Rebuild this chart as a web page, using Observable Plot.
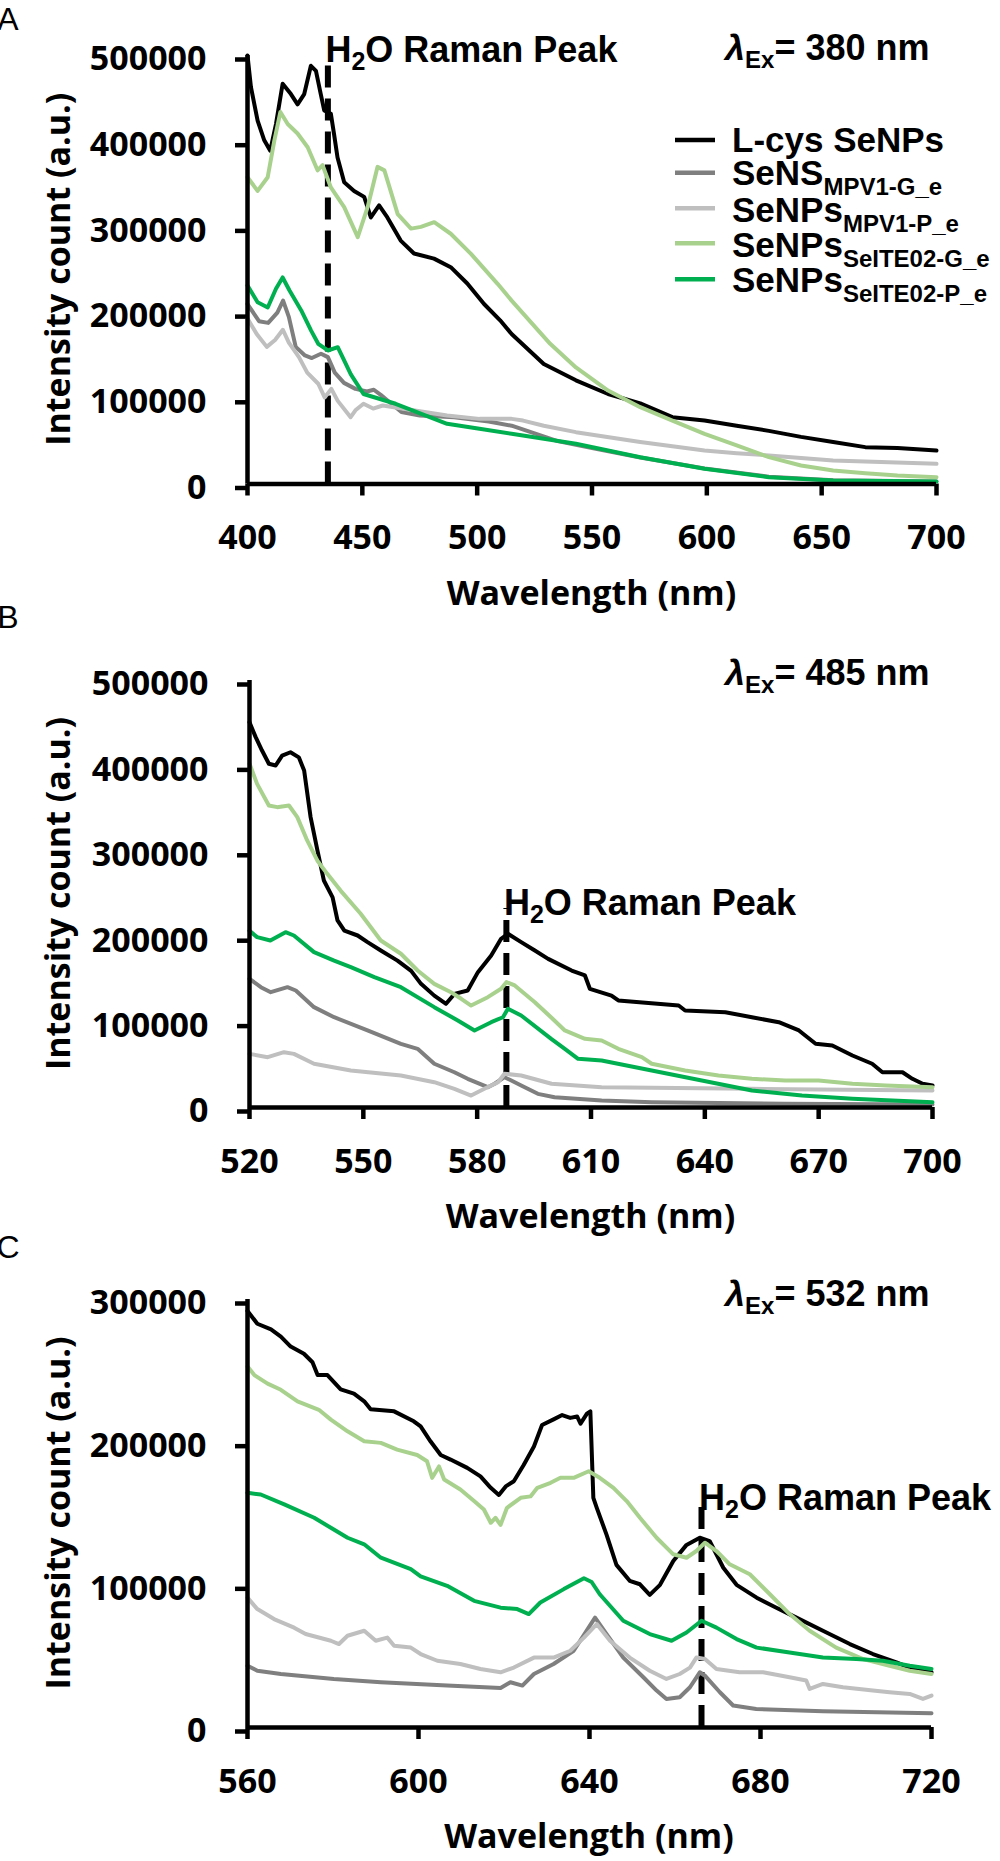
<!DOCTYPE html>
<html><head><meta charset="utf-8">
<script src="https://cdn.jsdelivr.net/npm/d3@7"></script>
<script src="https://cdn.jsdelivr.net/npm/@observablehq/plot@0.6"></script>
<style>
body{margin:0;background:#fff;}
#root{position:relative;width:1000px;height:1861px;background:#fff;overflow:hidden}
#root svg{position:absolute;left:0;overflow:visible}
</style></head><body><div id="root"></div>
<script>
// ---------- legend / series ----------
const legendMain = ["L-cys SeNPs","SeNS","SeNPs","SeNPs","SeNPs"];
const legendSub  = ["","MPV1-G_e","MPV1-P_e","SeITE02-G_e","SeITE02-P_e"];
const seriesColors = ["#000000","#7f7f7f","#bfbfbf","#a9d18e","#00b050"];

// ---------- Panel A : λEx = 380 nm ----------
const aTicksX = [400,450,500,550,600,650,700];
const aTicksY = [0,100000,200000,300000,400000,500000];
const aRaman = 435, aRamanTop = 500000;
const aLcys = [[400,500000],[401.5,463000],[404.4,424000],[407.3,401000],[409.9,389000],[412.4,420000],[415.3,467000],[418.9,455000],[421.8,443000],[424.7,455000],[427.6,488000],[429.8,482000],[431.9,455000],[433.4,436000],[436.3,432000],[437.7,408000],[439.2,381000],[442.1,352000],[446.4,342000],[450.8,335000],[453.7,311000],[457.3,325000],[460.9,311000],[466.7,284000],[472.5,269000],[481.2,263000],[488.5,253000],[495.7,234000],[503,210000],[510,191000],[515,175000],[529,140000],[543,121000],[557,105000],[571,94000],[585,78000],[599,74000],[613,68000],[627,62000],[641,55000],[655,49000],[669,43000],[683,42000],[700,39000]];
const aMPV1G = [[400,210000],[405,190000],[409,188000],[413,200000],[415.5,214000],[418,195000],[421,160000],[425,150000],[428,147000],[432,152000],[435,148000],[438,130000],[442,118000],[447,111000],[452,108000],[455,110000],[458,104000],[462,95000],[467,84000],[475,80000],[490,78000],[505,73000],[515,68000],[525,59000],[535,50000],[550,42000],[571,31000],[599,18000],[627,8500],[655,4500],[700,3000]];
const aMPV1P = [[400,193000],[404,175000],[408.4,160000],[412,168000],[415.4,180000],[418,165000],[422.4,148000],[426,130000],[430.8,117000],[433.6,101000],[436.5,111000],[439.3,97000],[444.9,78000],[447,86000],[450.5,93600],[454.7,88000],[458.9,91600],[472.9,85800],[486.9,80000],[501,76000],[515,76000],[520,74000],[529,68000],[543,60500],[571,49000],[599,39000],[613,36000],[627,33300],[655,27400],[700,23500]];
const aSelG = [[400,358000],[404.4,342000],[408.8,358000],[411.7,401000],[414.3,434000],[417.5,420000],[421.8,409000],[426.2,393000],[430.5,366000],[432.7,372000],[436.3,346000],[442.1,323000],[448,288000],[452.3,323000],[456.6,370000],[459.6,366000],[465.4,315000],[471.2,298000],[475.5,300000],[481.3,305500],[488.5,292000],[497.3,268600],[508.9,233600],[515,214000],[531.8,163600],[543,136000],[557,109000],[571,89600],[585,74000],[599,58600],[613,45000],[627,31300],[641,21600],[655,15800],[669,12600],[683,9900],[700,8000]];
const aSelP = [[400,231600],[404.4,212000],[408.8,206000],[412.4,227800],[415.3,241000],[418.3,225800],[423.4,202500],[427.7,179000],[430.8,163600],[435,155800],[439.3,159600],[445,128000],[450.5,105000],[464.5,93600],[486.9,70200],[501,64400],[515,58600],[543,46900],[571,31300],[599,17700],[627,8000],[655,4000],[700,3000]];

// ---------- Panel B : λEx = 485 nm ----------
const bTicksX = [520,550,580,610,640,670,700];
const bTicksY = [0,100000,200000,300000,400000,500000];
const bRaman = 587.7, bRamanTop = 233000;
const bLcys = [[520,451000],[521.6,434000],[523.3,418000],[525.1,402500],[526.9,400500],[528.6,412000],[530.8,416000],[533,410000],[534.4,394600],[536.1,340000],[537.9,301000],[539.6,265800],[541.9,246000],[543.2,219000],[545,207000],[548.5,201400],[551.1,193600],[554.6,183800],[559,172000],[562.6,160000],[565.2,144800],[568.7,131000],[571.8,121400],[574,133000],[577.5,137000],[580.2,158500],[583.7,178000],[586.3,197500],[588.1,203400],[591.6,193600],[595.2,183800],[598.7,174000],[604.9,160400],[608.4,154600],[609.7,139000],[615.4,131000],[617.2,125300],[633.1,119400],[634.8,113600],[645.4,111600],[652.4,105700],[659.5,99900],[664.8,90200],[669.2,74600],[673.6,72600],[678.9,60900],[684.1,51200],[686.8,41300],[692.1,41300],[694.7,33600],[697.4,27800],[700,25800]];
const bMPV1G = [[520,150700],[523,140900],[525.6,135000],[530,140900],[532.2,137000],[537,117500],[542.3,105700],[551.1,90200],[559.9,74600],[564.3,68700],[568.7,51200],[574,41300],[577.5,33600],[582.8,23800],[584.6,27800],[587.2,35500],[589,31600],[591.6,25800],[596,16000],[600.4,12000],[612.8,8200],[626,6200],[661,4300],[700,3500]];
const bMPV1P = [[520,62800],[524.8,58900],[529.1,64800],[531.7,62800],[537,51200],[546.7,43300],[559.9,37500],[568.7,29600],[574,21900],[578.4,14000],[581.9,21900],[585.5,29600],[587.2,39500],[591.6,37500],[599.6,27800],[612.8,23800],[652.4,21900],[700,20000]];
const bSelG = [[520,402500],[522,379000],[525.1,353600],[527.3,351700],[530.4,353600],[532.6,340000],[535.2,312700],[537.9,289000],[540.5,273600],[544,254000],[549.3,226800],[554.6,195600],[559.9,180000],[564.3,160400],[568.7,144800],[573.1,135000],[575.8,127300],[578.4,119400],[582.8,129200],[586.3,139000],[587.7,146800],[589.9,142900],[595.2,123300],[599.6,105000],[603.1,90200],[608.4,80400],[612.8,78500],[617.2,68700],[623.4,58900],[626,51200],[634.8,43300],[643.6,37500],[652.4,33600],[661.2,31600],[670,31600],[678.9,27800],[687.7,25800],[700,23800]];
const bSelP = [[520,207000],[522,199500],[525.5,195600],[529.5,205300],[531.7,201400],[537,181900],[542.3,172000],[546.7,164300],[552.9,152600],[559.9,140900],[568.7,117500],[574.9,101900],[579.3,90200],[583.7,99900],[586.8,105700],[588.1,115600],[591.6,107700],[599.6,80000],[603.1,68700],[606.6,57000],[612.8,55000],[626,43300],[639.2,31600],[652.4,19900],[665.6,14000],[678.9,10200],[700,6200]];

// ---------- Panel C : λEx = 532 nm ----------
const cTicksX = [560,600,640,680,720];
const cTicksY = [0,100000,200000,300000];
const cRaman = 666.2, cRamanTop = 157000;
const cLcys = [[560,292000],[562.3,283000],[565.5,279000],[567.8,274000],[570.1,267000],[573.2,262000],[575.2,256000],[576.4,247000],[578.7,247000],[581.8,237000],[584.9,234000],[587.3,228600],[588.8,223000],[594.3,221600],[598.9,214600],[600.5,211000],[602.8,200600],[605.2,191000],[607.5,187800],[611.4,182000],[614.5,176000],[616.9,168000],[618.8,163000],[620.4,169000],[622.3,172600],[624.6,184000],[627,197000],[628.9,212000],[631.6,216000],[633.6,219000],[635.5,217000],[637.1,218000],[637.9,213000],[639.4,220000],[640.2,221600],[640.9,161000],[641.7,154000],[644,135000],[646.3,114000],[649.4,102800],[651.8,100400],[654.1,93000],[656.5,100000],[659.6,116700],[662.7,128000],[665.8,133000],[668.1,130700],[671.3,112000],[674.4,100000],[679.1,91000],[683.7,84000],[688.4,77000],[694.6,67800],[700.9,58500],[706.3,51500],[711.8,45700],[715.6,41000],[720,38700]];
const cMPV1G = [[560,43300],[562.3,39800],[567.8,37500],[580.2,34000],[591.2,31700],[606.7,29400],[619.2,27700],[621.5,31700],[624.3,29400],[627,37500],[631.6,44500],[636.3,53800],[641.3,77000],[644,65500],[647.9,49000],[652.6,35200],[655.7,25900],[658,20000],[661.1,21200],[663.5,28200],[665.8,38700],[667,36300],[670.5,24700],[673.6,15400],[679,13000],[694.6,11400],[720,10000]];
const cMPV1P = [[560,91000],[562.3,83000],[566.2,76000],[570.9,70000],[573.6,65500],[579.5,60800],[581.4,58500],[583.4,64300],[587.3,67800],[590,60800],[592.7,63000],[594.3,57300],[598.2,56000],[600.5,51500],[604.4,46800],[609.8,44500],[614.5,41000],[619.2,38700],[622.3,42000],[627,49000],[631.6,49000],[635.5,53800],[638.7,63000],[641.7,72500],[644.8,60800],[649.4,49000],[654.1,39800],[658,34000],[661.1,37500],[663.5,42000],[665,49000],[667,48000],[669.7,41000],[675.1,38700],[680.6,38700],[686.8,35200],[690.7,32900],[691.5,27000],[694.6,30500],[699.3,28200],[706.3,25900],[710.2,24700],[714.9,23500],[718,20000],[720,22400]];
const cSelG = [[560,253000],[561.6,247000],[564.7,241000],[567.8,236700],[571.7,228600],[576.7,222700],[579.5,215800],[583.4,207600],[587.3,200600],[591.2,199500],[595,194800],[599.7,191000],[602,186600],[603.2,175000],[604.8,183000],[606,173800],[609.8,166800],[613,158700],[615.3,152800],[616.9,143500],[618,147000],[619.2,142000],[620.7,154000],[623.9,161000],[626.2,162000],[627.8,168000],[630.9,171500],[633.2,175000],[636.3,175000],[639.8,179600],[642.4,175000],[645.6,168000],[648.7,158700],[651.8,147000],[655.7,133000],[659.6,121400],[662.7,119000],[665,123700],[667,129500],[669.7,123700],[672.8,114400],[677.5,107400],[682.2,93400],[686.8,79500],[691.5,67800],[697.7,56000],[704,48000],[710.2,43300],[714.9,39800],[720,37500]];
const cSelP = [[560,164500],[563.1,163300],[568.6,156400],[575.6,147000],[579.5,140000],[583.4,133000],[587.3,128400],[591.2,119000],[598.2,111000],[600.5,106000],[606.7,99300],[613,88800],[619.2,84000],[623.1,83000],[625.8,79500],[628.5,87600],[634,97000],[638.7,104600],[640.5,102000],[642.4,93400],[647.9,74800],[654.1,65500],[659.2,60800],[662.7,66600],[666.2,74800],[669.7,70000],[674.4,62000],[679.1,56000],[686.8,52600],[694.6,49000],[702.4,48000],[708.6,46800],[714.9,43300],[720,41000]];

// ---------- drawing ----------
const ARIAL = "'Liberation Sans', Arial, sans-serif";
const TICKFONT = "'Open Sans', sans-serif";
const root = document.getElementById("root");

function richText(g, x, y, parts, size, subSize, subDy, anchor) {
  const t = g.append("text").attr("x", x).attr("y", y)
    .attr("font-family", ARIAL).attr("font-weight", "bold")
    .attr("font-size", size).attr("fill", "#000")
    .attr("text-anchor", anchor || "start");
  let shifted = 0;
  for (const p of parts) {
    const ts = t.append("tspan").text(p.t);
    if (p.sub) { ts.attr("font-size", subSize).attr("dy", subDy - shifted); shifted = subDy; }
    else { if (shifted) ts.attr("dy", -shifted); shifted = 0; }
    if (p.italic) ts.attr("font-style", "italic");
  }
  return t;
}

function panel(cfg) {
  const plot = Plot.plot({
    width: 1000, height: cfg.height,
    marginTop: cfg.mt, marginBottom: cfg.mb, marginLeft: cfg.ml, marginRight: cfg.mr,
    style: {fontFamily: TICKFONT, fontWeight: "bold", fontSize: "34px", color: "#000", background: "transparent", overflow: "visible"},
    x: {domain: cfg.xDomain},
    y: {domain: [0, cfg.yMax]},
    marks: [
      Plot.axisX({ticks: cfg.xTicks, tickSize: 12, tickPadding: 29, strokeWidth: 4.5, label: null,
        tickFormat: d => String(d), fontSize: 34, fontWeight: "bold", fontFamily: TICKFONT}),
      Plot.axisY({ticks: cfg.yTicks, tickSize: 12, tickPadding: 29, strokeWidth: 4.5, label: null,
        tickFormat: d => String(d), fontSize: 34, fontWeight: "bold", fontFamily: TICKFONT, dy: 4}),
      Plot.ruleX([cfg.raman], {y1: 0, y2: cfg.ramanTop, stroke: "#000", strokeWidth: 6, strokeDasharray: "22,11"}),
      ...cfg.series.map((s, i) => Plot.line(s, {x: d => d[0], y: d => d[1], stroke: seriesColors[i], strokeWidth: 4, strokeLinejoin: "round"})),
      Plot.ruleX([cfg.xDomain[0]], {y1: 0, y2: cfg.yMax, stroke: "#000", strokeWidth: 4.5}),
      Plot.ruleY([0], {x1: cfg.xDomain[0], x2: cfg.xDomain[1], stroke: "#000", strokeWidth: 4.5})
    ]
  });
  plot.style.top = cfg.top + "px";
  root.appendChild(plot);
  const sx = plot.scale("x"), sy = plot.scale("y");
  const g = d3.select(plot).append("g");
  const x0 = sx.apply(cfg.xDomain[0]), x1 = sx.apply(cfg.xDomain[1]);
  const yb = sy.apply(0), yt = sy.apply(cfg.yMax);
  // panel letter
  g.append("text").attr("x", 8).attr("y", cfg.letterY).attr("font-family", ARIAL)
    .attr("font-weight", "normal").attr("font-size", 32).attr("fill", "#000").text(cfg.letter);
  // x title
  g.append("text").attr("x", (x0 + x1) / 2).attr("y", yb + 121).attr("text-anchor", "middle")
    .attr("font-family", TICKFONT).attr("font-weight", "bold").attr("font-size", 34).attr("fill", "#000")
    .text("Wavelength (nm)");
  // y title
  g.append("text").attr("transform", `translate(70,${(yb + yt) / 2}) rotate(-90)`).attr("text-anchor", "middle")
    .attr("font-family", TICKFONT).attr("font-weight", "bold").attr("font-size", 34).attr("fill", "#000")
    .text("Intensity count (a.u.)");
  // excitation label
  richText(g, 725, cfg.exY, [{t: "λ", italic: true}, {t: "Ex", sub: true}, {t: "= " + cfg.ex + " nm"}], 36, 24, 8);
  // raman label
  richText(g, sx.apply(cfg.raman) - 2, sy.apply(cfg.ramanTop) + 7, [{t: "H"}, {t: "2", sub: true}, {t: "O Raman Peak"}], 36, 25, 8);
  // legend
  if (cfg.legend) {
    const lineY = [140, 172.7, 208.3, 243.3, 279.3];
    const textY = [152, 185, 221.7, 256.7, 291.7];
    legendMain.forEach((m, i) => {
      g.append("line").attr("x1", 675).attr("x2", 715).attr("y1", lineY[i]).attr("y2", lineY[i])
        .attr("stroke", seriesColors[i]).attr("stroke-width", 4.5);
      const parts = [{t: m}];
      if (legendSub[i]) parts.push({t: legendSub[i], sub: true});
      richText(g, 732, textY[i], parts, 35, 24, 10);
    });
  }
}

panel({top: 0, height: 600, mt: 55, mb: 116.5, ml: 247, mr: 64,
  xDomain: [400, 700], xTicks: aTicksX, yMax: 500000, yTicks: aTicksY,
  series: [aLcys, aMPV1G, aMPV1P, aSelG, aSelP], raman: aRaman, ramanTop: aRamanTop,
  letter: "A", letterY: 30, ex: 380, exY: 60, legend: true});
panel({top: 600, height: 625, mt: 80, mb: 118, ml: 249, mr: 68,
  xDomain: [520, 700], xTicks: bTicksX, yMax: 500000, yTicks: bTicksY,
  series: [bLcys, bMPV1G, bMPV1P, bSelG, bSelP], raman: bRaman, ramanTop: bRamanTop,
  letter: "B", letterY: 28, ex: 485, exY: 85, legend: false});
panel({top: 1225, height: 636, mt: 74, mb: 134, ml: 247, mr: 69,
  xDomain: [560, 720], xTicks: cTicksX, yMax: 300000, yTicks: cTicksY,
  series: [cLcys, cMPV1G, cMPV1P, cSelG, cSelP], raman: cRaman, ramanTop: cRamanTop,
  letter: "C", letterY: 33, ex: 532, exY: 81, legend: false});
</script></body></html>
